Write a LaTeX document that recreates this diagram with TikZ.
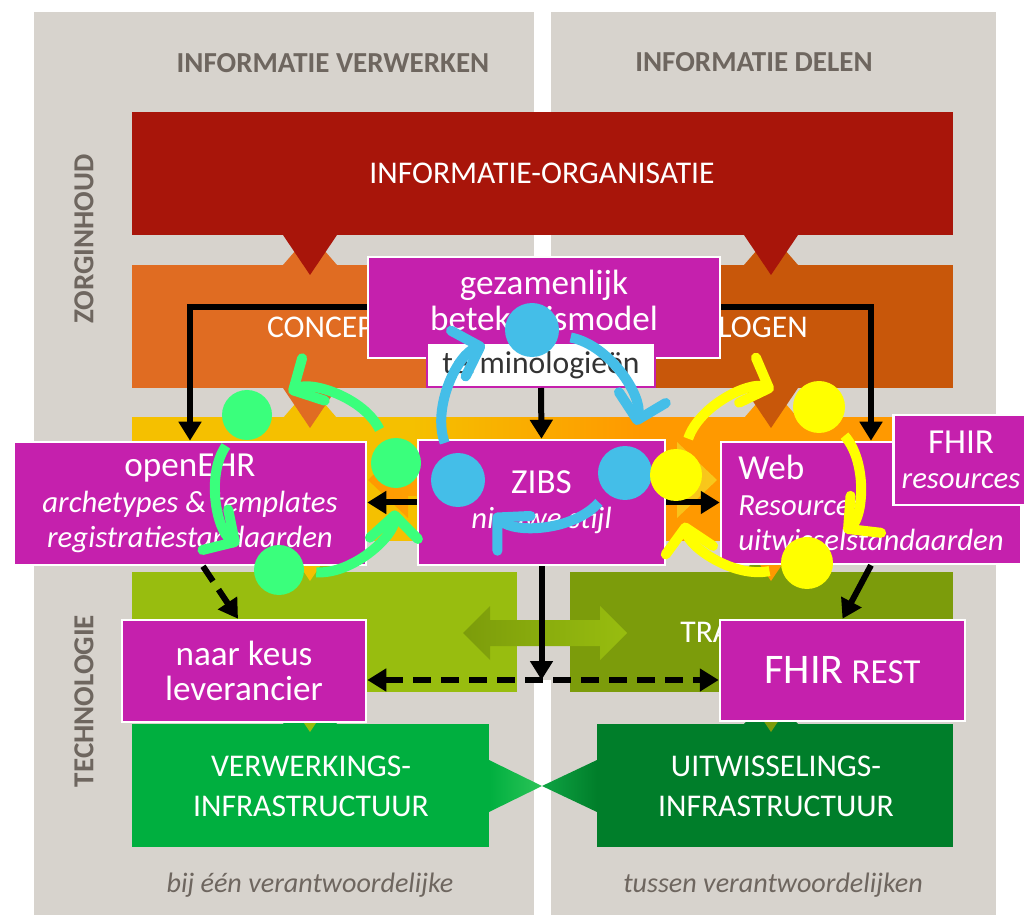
\documentclass[tikz,border=0pt]{standalone}
\usepackage{fontspec}
\setmainfont{Carlito}
\usepackage{tikz}
\usetikzlibrary{arrows.meta}
\definecolor{bggrey}{HTML}{D7D3CD}
\definecolor{hdgrey}{HTML}{6E665F}
\definecolor{termgrey}{HTML}{333333}
\definecolor{darkred}{HTML}{A8150A}
\definecolor{oraA}{HTML}{E06C22}
\definecolor{oraB}{HTML}{C8570A}
\definecolor{yelA}{HTML}{F5C000}
\definecolor{yelB}{HTML}{FF9900}
\definecolor{yelC}{HTML}{F8C81C}
\definecolor{grnA}{HTML}{98BD0F}
\definecolor{grnB}{HTML}{7C9C0B}
\definecolor{infA}{HTML}{00AF3F}
\definecolor{infB}{HTML}{007E2A}
\definecolor{infC}{HTML}{2CC458}
\definecolor{infD}{HTML}{0FA444}
\definecolor{boxmag}{HTML}{C520AD}
\definecolor{cycgreen}{HTML}{3AFF7C}
\definecolor{cycblue}{HTML}{44BEE8}
\definecolor{cycyellow}{HTML}{FFFF00}
\pgfdeclarehorizontalshading{yelband}{100bp}{color(0bp)=(yelA); color(42bp)=(yelA); color(56bp)=(yelB); color(100bp)=(yelB)}
\tikzstyle{arrow} = [line width=1.2mm,->,>={Triangle[length=3.8mm,width=4.4mm]}]
\newcommand{\subline}[1]{{\fontsize{17.5}{20}\selectfont\itshape #1}}

\begin{document}
\begin{tikzpicture}[x=0.2mm, y=0.2mm]
   \tikzset{block/.style={draw=white, line width=0.5mm, fill=boxmag, text=white, align=center, inner sep=0, font=\fontsize{20}{20}\selectfont},
   layer/.style={text=white, align=center, inner sep=0, font=\fontsize{18}{22.7}\selectfont},
   head/.style={text=hdgrey, inner sep=0, font=\bfseries\fontsize{16.5}{20}\selectfont},
   foot/.style={text=hdgrey, inner sep=0, font=\itshape\fontsize{16}{20}\selectfont},
   gezlbl/.style={text=white, align=center, inner sep=0, font=\fontsize{20}{20}\selectfont, yshift=1.4mm},
   cyc/.style={line width=2mm, -{Straight Barb[length=4.6mm,width=9.6mm,round]}, shorten <=2.4mm, shorten >=4.4mm},
   gdot/.style={circle, fill=cycgreen, minimum size=10mm, inner sep=0},
   bdot/.style={circle, fill=cycblue, minimum size=10.8mm, inner sep=0},
   ydot/.style={circle, fill=cycyellow, minimum size=10.4mm, inner sep=0}
   }
 \useasboundingbox (0,0) rectangle (1024,-915);
 \clip (0,0) rectangle (1024,-915);
 \fill[white] (0,0) rectangle (1024,-915);
 \fill[bggrey] (34,-12) rectangle (534,-915);
 \fill[bggrey] (551,-12) rectangle (996,-915);
 \fill[bggrey] (530,-388) rectangle (555,-680);

 \node[head] (verw) at (333,-63) {INFORMATIE VERWERKEN};
 \node[head] (delen) at (754,-62) {INFORMATIE DELEN};
 \node[head, rotate=90] (zorg) at (84,-239) {ZORGINHOUD};
 \node[head, rotate=90] (tech) at (84,-701) {TECHNOLOGIE};

 % layers
 \fill[darkred] (132,-112) rectangle (953,-235);
 \fill[oraA] (132,-265) rectangle (542,-388);
 \fill[oraB] (542,-265) rectangle (953,-388);
 \fill[oraA] (283,-265) -- (296,-250) -- (324,-250) -- (337,-265) -- cycle;
 \fill[oraB] (744,-265) -- (757,-250) -- (785,-250) -- (798,-265) -- cycle;
 \shade[shading=yelband] (132,-418) rectangle (953,-541);
 \fill[yelA] (283,-418) -- (296,-403) -- (324,-403) -- (337,-418) -- cycle;
 \fill[yelB] (744,-418) -- (757,-403) -- (785,-403) -- (798,-418) -- cycle;
 \fill[grnA] (132,-572) rectangle (517,-692);
 \fill[grnB] (570,-572) rectangle (953,-692);
 \fill[grnA] (283,-572) -- (296,-557) -- (324,-557) -- (337,-572) -- cycle;
 \fill[grnB] (744,-572) -- (757,-557) -- (785,-557) -- (798,-572) -- cycle;
 \fill[infA] (132,-724) rectangle (489,-847);
 \fill[infB] (597,-724) rectangle (953,-847);
 \fill[infA] (283,-724) -- (296,-709) -- (324,-709) -- (337,-724) -- cycle;
 \fill[infB] (744,-724) -- (757,-709) -- (785,-709) -- (798,-724) -- cycle;
 \shade[left color=infA, right color=infC] (489,-760) -- (542,-786) -- (489,-812) -- cycle;
 \shade[left color=infD, right color=infB] (597,-760) -- (542,-786) -- (597,-812) -- cycle;

 \fill[darkred] (283,-235) -- (337,-235) -- (310,-275) -- cycle;
 \fill[darkred] (744,-235) -- (798,-235) -- (771,-275) -- cycle;
 \fill[oraA] (283,-388) -- (337,-388) -- (310,-428) -- cycle;
 \fill[oraB] (744,-388) -- (798,-388) -- (771,-428) -- cycle;
 \fill[yelA] (283,-541) -- (337,-541) -- (310,-581) -- cycle;
 \fill[yelB] (744,-541) -- (798,-541) -- (771,-581) -- cycle;
 \fill[grnA] (283,-692) -- (337,-692) -- (310,-732) -- cycle;
 \fill[grnB] (744,-692) -- (798,-692) -- (771,-732) -- cycle;

 \shade[left color=yelB, right color=yelC] (368,-480) -- (408,-442) -- (408,-464) -- (677,-464) -- (677,-442) -- (717,-480) -- (677,-518) -- (677,-496) -- (408,-496) -- (408,-518) -- cycle;
 \shade[left color=grnB, right color=grnA] (463,-633) -- (490,-606) -- (490,-620) -- (600,-620) -- (600,-606) -- (627,-633) -- (600,-660) -- (600,-646) -- (490,-646) -- (490,-660) -- cycle;

 \node[layer] (org) at (542,-173) {INFORMATIE-ORGANISATIE};
 \node[layer, anchor=east] (conc) at (374,-327) {CONCEP};
 \node[layer, anchor=west] (cat) at (718,-327) {LOGEN};
 \node[layer, anchor=west] (trans) at (680,-632) {TRA};
 \node[layer] (verwinf) at (311,-786) {VERWERKINGS-\\INFRASTRUCTUUR};
 \node[layer] (uitwinf) at (776,-786) {UITWISSELINGS-\\INFRASTRUCTUUR};
 \node[foot] (een) at (310,-885) {bij één verantwoordelijke};
 \node[foot] (tussen) at (773,-885) {tussen verantwoordelijken};

 % standaarden
 \node[block, minimum width=70.4mm, minimum height=20.2mm, label={[gezlbl]center:{gezamenlijk\\betekenismodel}}] (gez) at (544,-307.5) {};
 \node[draw=boxmag, line width=0.4mm, fill=white, text=termgrey, minimum width=45.6mm, minimum height=8.8mm, inner sep=0, font=\fontsize{18}{20}\selectfont] (term) at (541,-365) {terminologieën};
 \node[block, minimum width=70.4mm, minimum height=24.6mm] (ehr) at (190,-503.5) {openEHR\\\subline{archetypes \& templates}\\\subline{registratiestandaarden}};
 \node[block, minimum width=49.4mm, minimum height=25mm] (zibs) at (541.5,-502.5) {ZIBS\\\subline{nieuwe stijl}};
 \node[block, minimum width=60mm, minimum height=24.4mm, align=left] (web) at (871,-503) {Web\\\subline{Resources}\\\subline{uitwisselstandaarden}};
 \node[block, minimum width=27mm, minimum height=18mm] (res) at (961,-460) {FHIR\\\subline{resources}};
 \node[block, minimum width=48.8mm, minimum height=20.4mm] (keus) at (244,-671) {naar keus\\leverancier};
 \node[block, minimum width=49mm, minimum height=20.2mm] (rest) at (842.5,-670.5) {{\fontsize{24}{24}\selectfont FHIR} REST};

 \draw[arrow] (gez.west) -| (ehr.north);
 \draw[arrow] (gez.east) -| (web.north);
 \draw[arrow] (term.south) -- (zibs.north);
 \draw[arrow] (zibs.west) -- (zibs.west -| ehr.east);
 \draw[arrow] (zibs.east) -- (zibs.east -| web.west);
 \draw[arrow, dash pattern=on 3.6mm off 2mm] ([xshift=2.6mm]ehr.south) -- ([xshift=-1.2mm]keus.north);
 \draw[arrow] (web.south) -- (rest.north);
 \coordinate (hub) at (541.5,-680);
 \draw[arrow, <->, dash pattern=on 3.6mm off 2mm] (keus.east |- hub) -- (rest.west |- hub);
 \draw[arrow] (zibs.south) -- (hub);

 % kringen
 \node[gdot] (ga) at (396,-463) {};
 \node[gdot] (gb) at (247,-415) {};
 \node[gdot] (gc) at (279,-570) {};
 \draw[cyc, cycgreen] (ga) to[bend right=46] (gb);
 \draw[cyc, cycgreen] (gb) to[bend right=46] (gc);
 \draw[cyc, cycgreen] (gc) to[bend right=46] (ga);

 \node[bdot] (ba) at (532,-330) {};
 \node[bdot] (bb) at (458,-480) {};
 \node[bdot] (bc) at (625,-473) {};
 \draw[cyc, cycblue] (ba) to[bend left=46] (bc);
 \draw[cyc, cycblue] (bc) to[bend left=46] (bb);
 \draw[cyc, cycblue] (bb) to[bend left=46] (ba);

 \node[ydot] (ya) at (676,-475) {};
 \node[ydot] (yb) at (819,-407) {};
 \node[ydot] (yc) at (807,-563) {};
 \draw[cyc, cycyellow] (ya) to[bend left=46] (yb);
 \draw[cyc, cycyellow] (yb) to[bend left=46] (yc);
 \draw[cyc, cycyellow] (yc) to[bend left=46] (ya);
\end{tikzpicture}
\end{document}
